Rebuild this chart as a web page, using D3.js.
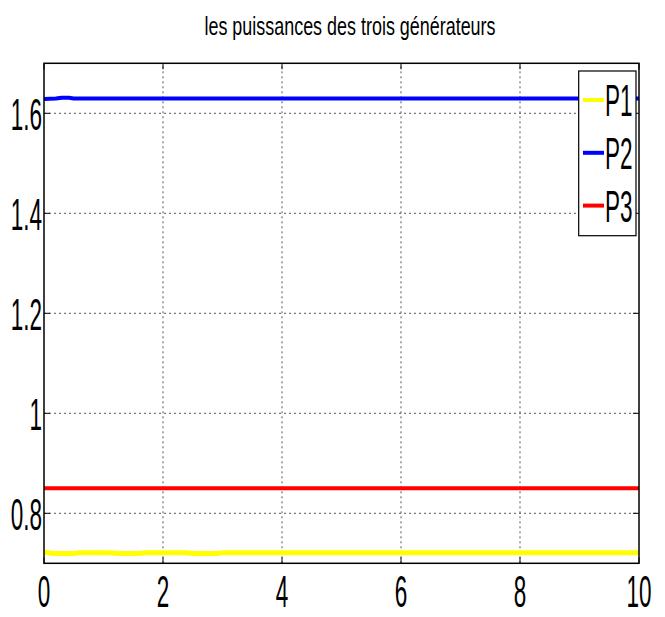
<!DOCTYPE html>
<html>
<head>
<meta charset="utf-8">
<script src="https://cdn.jsdelivr.net/npm/d3@7"></script>
<style>
  html, body { margin: 0; padding: 0; background: #fff; }
  text { font-family: "Liberation Sans", Arial, sans-serif; fill: #000; }
</style>
</head>
<body>
<svg id="chart" width="665" height="617"></svg>
<script>
// Power output of the three generators over time
const titleText = "les puissances des trois générateurs";
const xTicks = [0, 2, 4, 6, 8, 10];
const yTicks = [0.8, 1, 1.2, 1.4, 1.6];
const seriesNames = ["P1", "P2", "P3"];
const seriesColors = ["#ffff00", "#0000ff", "#ff0000"];

// [time, power] samples
const p1 = [[0, 0.7225], [0.15, 0.7195], [0.5, 0.7195], [0.6, 0.721], [1.1, 0.721], [1.25, 0.7195],
            [1.6, 0.7195], [1.7, 0.721], [2.4, 0.721], [2.5, 0.7195], [2.9, 0.7195], [3.0, 0.721],
            [5, 0.721], [7, 0.721], [10, 0.721]];
const p2 = [[0, 1.6285], [0.2, 1.6295], [0.3, 1.631], [0.42, 1.631], [0.5, 1.6295], [10, 1.6295]];
const p3 = [[0, 0.85], [10, 0.85]];
const series = [p1, p2, p3];

const svg = d3.select("#chart");
const margin = { left: 44, right: 26, top: 63.3, bottom: 53.7 };
const W = 665, H = 617;
const x = d3.scaleLinear().domain([0, 10]).range([margin.left, W - margin.right]);
const y = d3.scaleLinear().domain([0.7, 1.7]).range([H - margin.bottom, margin.top]);

const sx = 0.5;      // horizontal squeeze of the narrow label font
const fs = 45;

// grid
const grid = svg.append("g").attr("stroke", "#555").attr("stroke-width", 1)
  .attr("stroke-dasharray", "2,3");
xTicks.slice(1, -1).forEach(t => {
  grid.append("line").attr("x1", x(t)).attr("x2", x(t)).attr("y1", y(0.7)).attr("y2", y(1.7));
});
yTicks.forEach(t => {
  grid.append("line").attr("x1", x(0)).attr("x2", x(10)).attr("y1", y(t)).attr("y2", y(t));
});

// inward ticks on all four sides
const tk = 6;
const ticks = svg.append("g").attr("stroke", "#000").attr("stroke-width", 1);
xTicks.forEach(t => {
  ticks.append("line").attr("x1", x(t)).attr("x2", x(t)).attr("y1", y(0.7)).attr("y2", y(0.7) - tk);
  ticks.append("line").attr("x1", x(t)).attr("x2", x(t)).attr("y1", y(1.7)).attr("y2", y(1.7) + tk);
});
yTicks.forEach(t => {
  ticks.append("line").attr("x1", x(0)).attr("x2", x(0) + tk).attr("y1", y(t)).attr("y2", y(t));
  ticks.append("line").attr("x1", x(10)).attr("x2", x(10) - tk).attr("y1", y(t)).attr("y2", y(t));
});

// series lines
const line = d3.line().x(d => x(d[0])).y(d => y(d[1]));
const widths = [5, 4, 4];
series.forEach((s, i) => {
  svg.append("path").datum(s).attr("d", line).attr("fill", "none")
    .attr("stroke", seriesColors[i]).attr("stroke-width", widths[i])
    .attr("stroke-linejoin", "round");
});

// axes box
svg.append("rect").attr("x", x(0)).attr("y", y(1.7))
  .attr("width", x(10) - x(0)).attr("height", y(0.7) - y(1.7))
  .attr("fill", "none").attr("stroke", "#000").attr("stroke-width", 1.5);

// squeezed text helper
function label(g, tx, ty, str, anchor, size, scale) {
  g.append("text")
    .attr("transform", `translate(${tx},${ty}) scale(${scale},1)`)
    .attr("text-anchor", anchor)
    .attr("font-size", size)
    .text(str);
}

const labels = svg.append("g");
xTicks.forEach(t => label(labels, x(t), y(0.7) + 44, d3.format("")(t), "middle", fs, sx));
yTicks.forEach(t => label(labels, x(0) - 2, y(t) + 16.5, String(t), "end", fs, sx));

// title
label(svg, 350, 35, titleText, "middle", 26, 0.69);

// legend
const lg = svg.append("g");
lg.append("rect").attr("x", 578.7).attr("y", 71).attr("width", 57.3).attr("height", 164.7)
  .attr("fill", "#fff").attr("stroke", "#000").attr("stroke-width", 1.2);
seriesNames.forEach((n, i) => {
  const cy = 100 + i * 52.8;
  lg.append("line").attr("x1", 583).attr("x2", 604).attr("y1", cy).attr("y2", cy)
    .attr("stroke", seriesColors[i]).attr("stroke-width", 4);
  label(lg, 605, cy + 16, n, "start", fs, sx);
});
</script>
</body>
</html>
